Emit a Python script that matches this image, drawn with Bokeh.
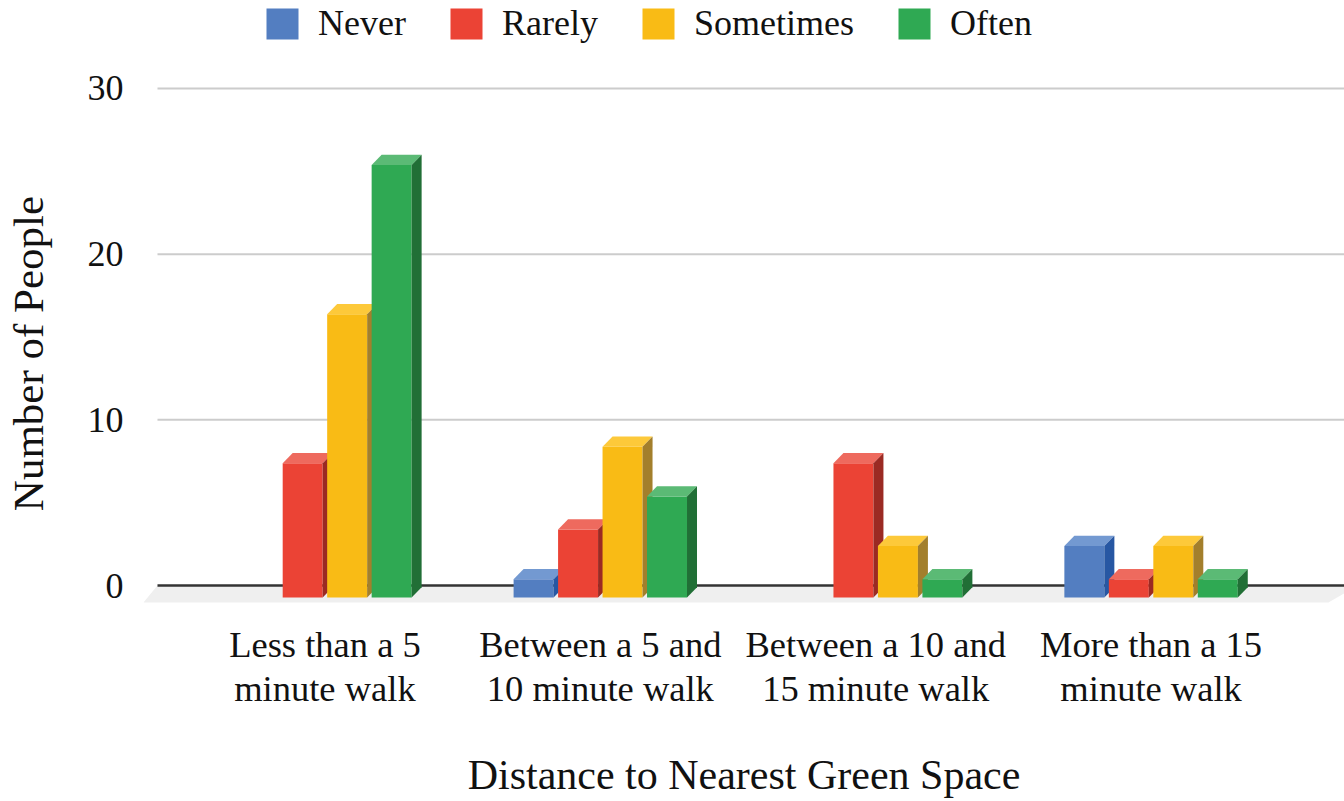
from bokeh.plotting import figure
from bokeh.models import FixedTicker, Range1d, Legend, LegendItem
from bokeh.embed import file_html
from bokeh.resources import INLINE

# ---------------- data ----------------
categories = ["Less than a 5\nminute walk", "Between a 5 and\n10 minute walk",
              "Between a 10 and\n15 minute walk", "More than a 15\nminute walk"]
series_names = ["Never", "Rarely", "Sometimes", "Often"]
never = [0, 1, 0, 3]
rarely = [8, 4, 8, 1]
sometimes = [17, 9, 3, 3]
often = [26, 6, 1, 1]
y_ticks = [0, 10, 20, 30]

# ---------------- style ----------------
front_colors = ["#537EC1", "#EB4335", "#F9BB15", "#2FA953"]
top_colors = ["#7399D1", "#EE6A5E", "#FDC93A", "#5BBA75"]
side_colors = ["#2757A3", "#9B2A23", "#A37F2C", "#216F36"]
FONT = "Liberation Serif"
TEXT_COLOR = "#111111"

BAR_PITCH = 0.1615
BAR_W = 0.1452
DX = 0.0363
DY = 0.62
FRONT_BASE = -0.72

p = figure(width=1344, height=801,
           x_range=Range1d(-0.6588, 3.7024), y_range=Range1d(-7.30, 35.31),
           output_backend="svg", toolbar_location=None,
           min_border_left=143, min_border_right=0,
           min_border_top=0, min_border_bottom=95)
p.outline_line_color = None
p.xgrid.visible = False
p.ygrid.visible = False
p.background_fill_color = "white"

# floor
p.patch([-0.608, 3.75, 3.644, -0.659], [0, 0, -1.03, -1.03],
        fill_color="#EFEFEF", line_color=None)
# gridlines
grid_y = [t for t in y_ticks if t != 0]
p.segment(x0=[-0.608] * len(grid_y), x1=[3.75] * len(grid_y), y0=grid_y, y1=grid_y,
          line_color="#CCCCCC", line_width=2)
# baseline
p.segment(x0=[-0.608], x1=[3.75], y0=[0], y1=[0], line_color="#333333", line_width=2.5)

all_series = [never, rarely, sometimes, often]
legend_items = []
for i, (name, vals) in enumerate(zip(series_names, all_series)):
    left, right, bottom, top = [], [], [], []
    top_xs, top_ys, side_xs, side_ys = [], [], [], []
    for g, v in enumerate(vals):
        if v <= 0:
            continue
        c = g + (i - 1.5) * BAR_PITCH
        x0, x1 = c - BAR_W / 2, c + BAR_W / 2
        ft = v - DY
        left.append(x0); right.append(x1); bottom.append(FRONT_BASE); top.append(ft)
        top_xs.append([x0, x1, x1 + DX, x0 + DX]); top_ys.append([ft, ft, v, v])
        side_xs.append([x1, x1 + DX, x1 + DX, x1])
        side_ys.append([FRONT_BASE, FRONT_BASE + DY, v, ft])
    r = p.quad(left=left, right=right, bottom=bottom, top=top,
               fill_color=front_colors[i], line_color=None)
    p.patches(top_xs, top_ys, fill_color=top_colors[i], line_color=None)
    p.patches(side_xs, side_ys, fill_color=side_colors[i], line_color=None)
    legend_items.append(LegendItem(label=name, renderers=[r]))

legend = Legend(items=legend_items, orientation="horizontal", location=(119, 662),
                padding=0, margin=0, spacing=40, label_standoff=16,
                glyph_width=40, glyph_height=39,
                label_text_font=FONT, label_text_font_size="36px",
                label_text_color=TEXT_COLOR,
                background_fill_alpha=0, border_line_alpha=0)
p.add_layout(legend)

# category labels under the groups (two lines each)
line1 = [c.split("\n")[0] for c in categories]
line2 = [c.split("\n")[1] for c in categories]
xs = list(range(len(categories)))
p.text(x=xs, y=[-3.55] * len(xs), text=line1, text_align="center",
       text_baseline="alphabetic", text_font=FONT, text_font_size="36.5px",
       text_color=TEXT_COLOR)
p.text(x=xs, y=[-6.2] * len(xs), text=line2, text_align="center",
       text_baseline="alphabetic", text_font=FONT, text_font_size="36.5px",
       text_color=TEXT_COLOR)

# axes
p.yaxis.ticker = FixedTicker(ticks=y_ticks)
p.yaxis.axis_line_color = None
p.yaxis.major_tick_line_color = None
p.yaxis.minor_tick_line_color = None
p.yaxis.major_tick_out = 0
p.yaxis.major_label_text_font = FONT
p.yaxis.major_label_text_font_size = "36px"
p.yaxis.major_label_text_color = TEXT_COLOR
p.yaxis.major_label_standoff = 20
p.yaxis.axis_label = "Number of People"
p.yaxis.axis_label_text_font = FONT
p.yaxis.axis_label_text_font_size = "43px"
p.yaxis.axis_label_text_font_style = "normal"
p.yaxis.axis_label_text_color = TEXT_COLOR
p.yaxis.axis_label_standoff = 33

p.xaxis.ticker = FixedTicker(ticks=[])
p.xaxis.axis_line_color = None
p.xaxis.major_tick_line_color = None
p.xaxis.minor_tick_line_color = None
p.xaxis.major_tick_out = 0
p.xaxis.major_label_standoff = 0
p.xaxis.axis_label = "Distance to Nearest Green Space"
p.xaxis.axis_label_text_font = FONT
p.xaxis.axis_label_text_font_size = "42px"
p.xaxis.axis_label_text_font_style = "normal"
p.xaxis.axis_label_text_color = TEXT_COLOR
p.xaxis.axis_label_standoff = 45

open("out.html", "w").write(file_html(p, INLINE))
